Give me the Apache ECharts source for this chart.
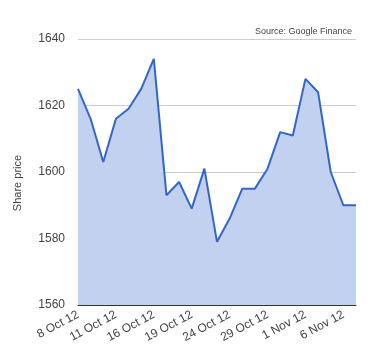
<!DOCTYPE html>
<html><head><meta charset="utf-8">
<script src="https://cdn.jsdelivr.net/npm/echarts@6/dist/echarts.min.js"></script>
<style>html,body{margin:0;padding:0;background:#fff}#c{width:380px;height:360px}</style>
</head><body><div id="c"></div>
<script>
const dates = ["8 Oct 12","9 Oct 12","10 Oct 12","11 Oct 12","12 Oct 12","15 Oct 12","16 Oct 12","17 Oct 12","18 Oct 12","19 Oct 12","22 Oct 12","23 Oct 12","24 Oct 12","25 Oct 12","26 Oct 12","29 Oct 12","30 Oct 12","31 Oct 12","1 Nov 12","2 Nov 12","5 Nov 12","6 Nov 12","7 Nov 12"];
const prices = [1625,1616,1603,1616,1619,1625,1634,1593,1597,1589,1601,1579,1586,1595,1595,1601,1612,1611,1628,1624,1600,1590,1590];
const yTicks = [1560,1580,1600,1620,1640];
const FF = 'Liberation Sans, Arial, sans-serif';
const chart = echarts.init(document.getElementById('c'));
chart.setOption({
  animation:false,
  title:{text:'Source: Google Finance',right:23,top:22,textStyle:{fontSize:9,fontWeight:'normal',color:'#444',fontFamily:FF}},
  grid:{left:78,right:24,top:39,bottom:55},
  xAxis:{type:'category',data:dates,boundaryGap:false,
    axisLine:{lineStyle:{color:'#333',width:1}},axisTick:{show:false},
    axisLabel:{interval:2,rotate:28,fontSize:12,color:'#444',margin:9,fontFamily:FF}},
  yAxis:{type:'value',min:yTicks[0],max:yTicks[yTicks.length-1],interval:20,
    name:'Share price',nameLocation:'middle',nameGap:55,nameTextStyle:{fontSize:11,color:'#444',fontFamily:FF,padding:[0,0,0,-22]},
    axisLine:{show:false},axisTick:{show:false},
    axisLabel:{fontSize:12,color:'#444',margin:13,fontFamily:FF,formatter:function(v){return String(v);}},
    splitLine:{lineStyle:{color:'#ccc'}}},
  series:[{type:'line',data:prices,symbol:'none',
    lineStyle:{color:'#3366cc',width:2},
    areaStyle:{color:'#c2d1ef',opacity:1}}]
});
</script></body></html>
